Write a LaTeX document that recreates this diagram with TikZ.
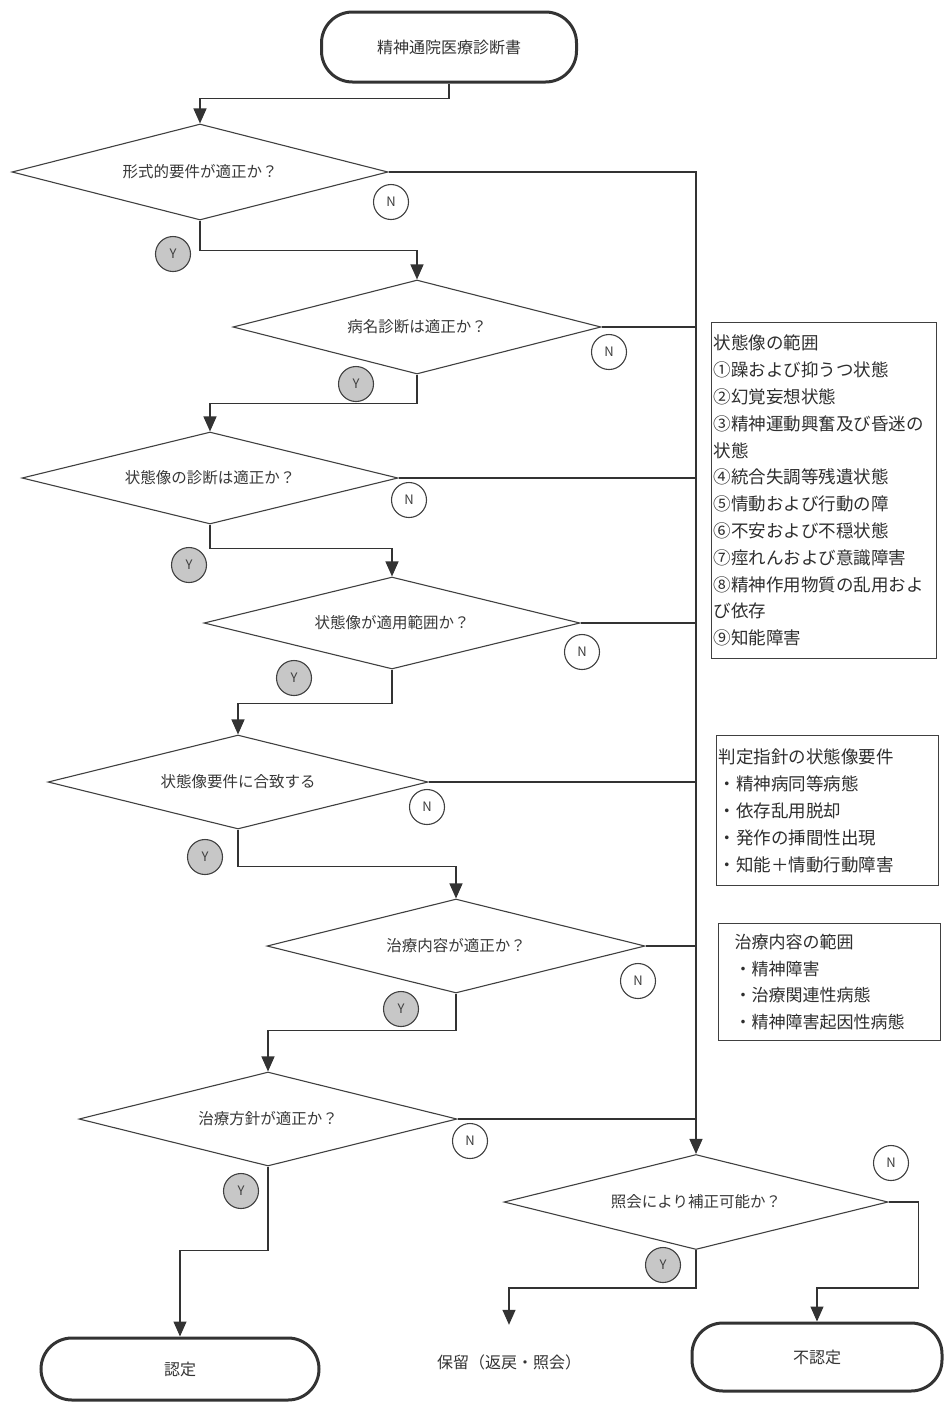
\documentclass[tikz,border=0pt]{standalone}
\usepackage{fontspec}
\setmainfont{Noto Sans CJK JP}
\usetikzlibrary{arrows.meta,shapes.geometric,calc}
\begin{document}
\begin{tikzpicture}[x=1pt,y=-1pt,
  line/.style={draw=black!80,line width=1.3pt},
  arr/.style={line,-{Triangle[width=13pt,length=15pt]}},
  dec/.style={diamond,aspect=4,draw=black!75,line width=1.1pt,inner sep=0pt,
    font=\fontsize{15.5}{18}\selectfont,text=black!78},
  term/.style={rectangle,rounded corners=31pt,draw=black!80,line width=3pt,
    font=\fontsize{16}{18}\selectfont,text=black!80},
  ncirc/.style={circle,draw=black!75,line width=1.1pt,minimum size=35pt,inner sep=0pt,
    font=\fontsize{13}{14}\selectfont,text=black!75,fill=white},
  ycirc/.style={ncirc,fill=black!22},
  infobox/.style={draw=black!75,line width=1.2pt,anchor=north west,align=left,
    text=black!82},
  plain/.style={inner sep=0pt,font=\fontsize{16}{18}\selectfont,text=black!80}
]
\useasboundingbox (0,0) rectangle (944,1403);

% terminals
\node[term,minimum width=255pt,minimum height=70pt] (start) at (449,47) {精神通院医療診断書};
\node[term,minimum width=278pt,minimum height=62pt] (nin) at (180,1369) {認定};
\node[term,minimum width=250pt,minimum height=68pt] (fu) at (817,1357) {不認定};
\node[plain,minimum height=74pt] (hold) at (509,1362) {保留（返戻・照会）};

% decisions
\node[dec,minimum width=376pt,minimum height=96pt] (d1) at (200,172) {形式的要件が適正か？};
\node[dec,minimum width=368pt,minimum height=94pt] (d2) at (417,327) {病名診断は適正か？};
\node[dec,minimum width=376pt,minimum height=92pt] (d3) at (210,478) {状態像の診断は適正か？};
\node[dec,minimum width=376pt,minimum height=92pt] (d4) at (392,623) {状態像が適用範囲か？};
\node[dec,minimum width=380pt,minimum height=94pt] (d5) at (238,782) {状態像要件に合致する};
\node[dec,minimum width=378pt,minimum height=94pt] (d6) at (456,946) {治療内容が適正か？};
\node[dec,minimum width=378pt,minimum height=94pt] (d7) at (268,1119) {治療方針が適正か？};
\node[dec,minimum width=384pt,minimum height=95pt] (d8) at (696,1202) {照会により補正可能か？};

% info boxes
\node[infobox,inner xsep=2pt,text width=221pt,minimum height=336pt,
  font=\fontsize{17.5}{26.8}\selectfont] (boxa) at (711,322)
  {状態像の範囲\\①躁および抑うつ状態\\②幻覚妄想状態\\③精神運動興奮及び昏迷の\\状態\\④統合失調等残遺状態\\⑤情動および行動の障\\⑥不安および不穏状態\\⑦痙れんおよび意識障害\\⑧精神作用物質の乱用およ\\び依存\\⑨知能障害};
\node[infobox,inner xsep=2pt,text width=218pt,minimum height=150pt,
  font=\fontsize{17.5}{27}\selectfont] (boxb) at (716,735)
  {判定指針の状態像要件\\・精神病同等病態\\・依存乱用脱却\\・発作の挿間性出現\\・知能＋情動行動障害};
\node[infobox,inner xsep=16pt,text width=190pt,minimum height=117pt,
  font=\fontsize{17}{26.5}\selectfont] (boxc) at (718,923)
  {治療内容の範囲\\・精神障害\\・治療関連性病態\\・精神障害起因性病態};

% connectors
\draw[arr] (start.south) -- ++(0,15) -| (d1.north);
\draw[arr] (d1.south) -- ++(0,30) -| (d2.north);
\draw[arr] (d2.south) -- ++(0,29) -| (d3.north);
\draw[arr] (d3.south) -- ++(0,24) -| (d4.north);
\draw[arr] (d4.south) -- ++(0,34) -| (d5.north);
\draw[arr] (d5.south) -- ++(0,37) -| (d6.north);
\draw[arr] (d6.south) -- ++(0,37) -| (d7.north);
\draw[arr] (d7.south) -- ++(0,84) -| (nin.north);
\draw[arr] (d8.south) -- ++(0,38) -| (hold.north);
\draw[arr] (d8.east) -- ++(30,0) -- ++(0,86) -| (fu.north);

% trunk of N branches
\draw[arr] (d1.east) -| (d8.north);
\foreach \d in {d2,d3,d4,d5,d6,d7}{
  \draw[line] (\d.east) -- (\d.east -| d8.north);
}

% Y / N markers
\node[ncirc] (n1) at (391,202) {N};
\node[ncirc] (n2) at (609,352) {N};
\node[ncirc] (n3) at (409,500) {N};
\node[ncirc] (n4) at (582,652) {N};
\node[ncirc] (n5) at (427,807) {N};
\node[ncirc] (n6) at (638,981) {N};
\node[ncirc] (n7) at (470,1141) {N};
\node[ncirc] (n8) at (891,1163) {N};
\node[ycirc] (y1) at (173,254) {Y};
\node[ycirc] (y2) at (356,384) {Y};
\node[ycirc] (y3) at (189,565) {Y};
\node[ycirc] (y4) at (294,678) {Y};
\node[ycirc] (y5) at (205,857) {Y};
\node[ycirc] (y6) at (401,1009) {Y};
\node[ycirc] (y7) at (241,1191) {Y};
\node[ycirc] (y8) at (663,1265) {Y};
\end{tikzpicture}
\end{document}
